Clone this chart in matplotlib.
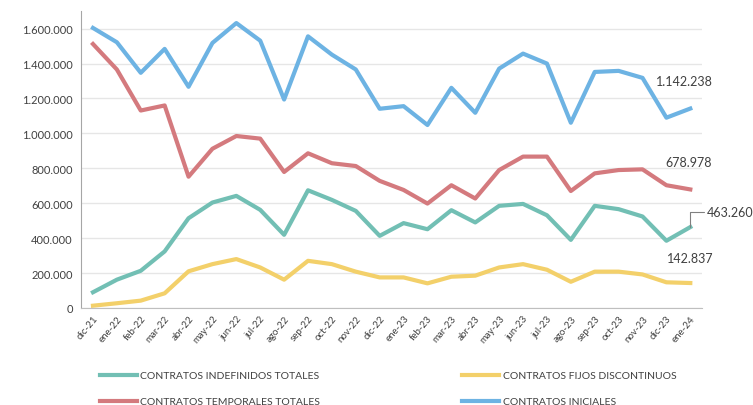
import matplotlib
matplotlib.use("Agg")
import matplotlib.pyplot as plt
from matplotlib.ticker import FuncFormatter, MultipleLocator

plt.rcParams['font.family'] = ['Lato', 'DejaVu Sans']

meses = ['dic-21', 'ene-22', 'feb-22', 'mar-22', 'abr-22', 'may-22', 'jun-22',
         'jul-22', 'ago-22', 'sep-22', 'oct-22', 'nov-22', 'dic-22', 'ene-23',
         'feb-23', 'mar-23', 'abr-23', 'may-23', 'jun-23', 'jul-23', 'ago-23',
         'sep-23', 'oct-23', 'nov-23', 'dic-23', 'ene-24']

indefinidos = [90000, 162000, 213000, 324000, 514000, 604000, 642000, 562000,
               419000, 674000, 619000, 556000, 413000, 486000, 451000, 560000,
               490000, 585000, 596000, 531000, 390000, 585000, 566000, 524000,
               385000, 463260]
fijos_disc = [13000, 27000, 42000, 84000, 210000, 251000, 280000, 232000,
              162000, 270000, 251000, 208000, 175000, 175000, 141000, 179000,
              185000, 232000, 251000, 219000, 150000, 208000, 208000, 192000,
              147000, 142837]
temporales = [1512000, 1366000, 1131000, 1160000, 752000, 912000, 985000,
              970000, 779000, 886000, 829000, 813000, 728000, 676000, 598000,
              703000, 627000, 790000, 867000, 867000, 670000, 771000, 790000,
              794000, 703000, 678978]
iniciales = [1604000, 1522000, 1347000, 1484000, 1267000, 1518000, 1632000,
             1531000, 1194000, 1556000, 1451000, 1366000, 1141000, 1156000,
             1048000, 1261000, 1118000, 1371000, 1457000, 1400000, 1061000,
             1352000, 1358000, 1318000, 1090000, 1142238]

TEAL = '#72BFB4'
YELLOW = '#F3D06A'
RED = '#D47A7E'
BLUE = '#6DB3E3'
TXT = '#404040'

fig = plt.figure(figsize=(7.53, 4.06), dpi=100)
ax = fig.add_axes((0.1076, 0.239, 0.825, 0.731))

x = range(len(meses))
l1, = ax.plot(x, indefinidos, color=TEAL, lw=3, label='CONTRATOS INDEFINIDOS TOTALES')
l2, = ax.plot(x, temporales, color=RED, lw=3, label='CONTRATOS TEMPORALES TOTALES')
l3, = ax.plot(x, fijos_disc, color=YELLOW, lw=3, label='CONTRATOS FIJOS DISCONTINUOS')
l4, = ax.plot(x, iniciales, color=BLUE, lw=3, label='CONTRATOS INICIALES')

ax.set_xlim(-0.5, len(meses) - 0.5)
ax.set_ylim(0, 1700000)
ax.yaxis.set_major_locator(MultipleLocator(200000))
ax.yaxis.set_major_formatter(FuncFormatter(lambda v, p: f'{int(v):,}'.replace(',', '.')))
ax.set_yticks(range(0, 1600001, 200000))
ax.grid(axis='y', color='#E6E6E6', lw=1)
ax.set_axisbelow(True)

ax.set_xticks(list(x))
ax.set_xticklabels(meses, rotation=50, ha='right', rotation_mode='anchor',
                   fontsize=7, color=TXT)
ax.tick_params(axis='y', labelsize=8, colors=TXT, length=0, pad=6)
ax.tick_params(axis='x', length=0, pad=4)

for s in ['top', 'right']:
    ax.spines[s].set_visible(False)
ax.spines['left'].set_color('#A6A6A6')
ax.spines['bottom'].set_color('#BFBFBF')

last = len(meses) - 1
ax.annotate('1.142.238', (last, iniciales[-1]), xytext=(-25, 17),
            textcoords='offset points', fontsize=9, color=TXT)
ax.annotate('678.978', (last, temporales[-1]), xytext=(-18, 17),
            textcoords='offset points', fontsize=9, color=TXT)
ax.annotate('142.837', (last, fijos_disc[-1]), xytext=(-17, 15),
            textcoords='offset points', fontsize=9, color=TXT)
ax.annotate('463.260', (last, indefinidos[-1]), xytext=(12, 11),
            textcoords='offset points', fontsize=9, color=TXT, va='center',
            annotation_clip=False,
            arrowprops=dict(arrowstyle='-', color='#808080', lw=0.8,
                            connectionstyle='angle,angleA=0,angleB=90,rad=0',
                            shrinkA=0, shrinkB=0))

fig.legend(handles=[l1, l2, l3, l4], ncol=2, loc='center left',
           bbox_to_anchor=(0.12, 0.04), frameon=False, fontsize=7.5,
           handlelength=3.6, handletextpad=0.3, columnspacing=13.6,
           labelspacing=1.6, labelcolor=TXT)

fig.savefig('out.png', dpi=100)
